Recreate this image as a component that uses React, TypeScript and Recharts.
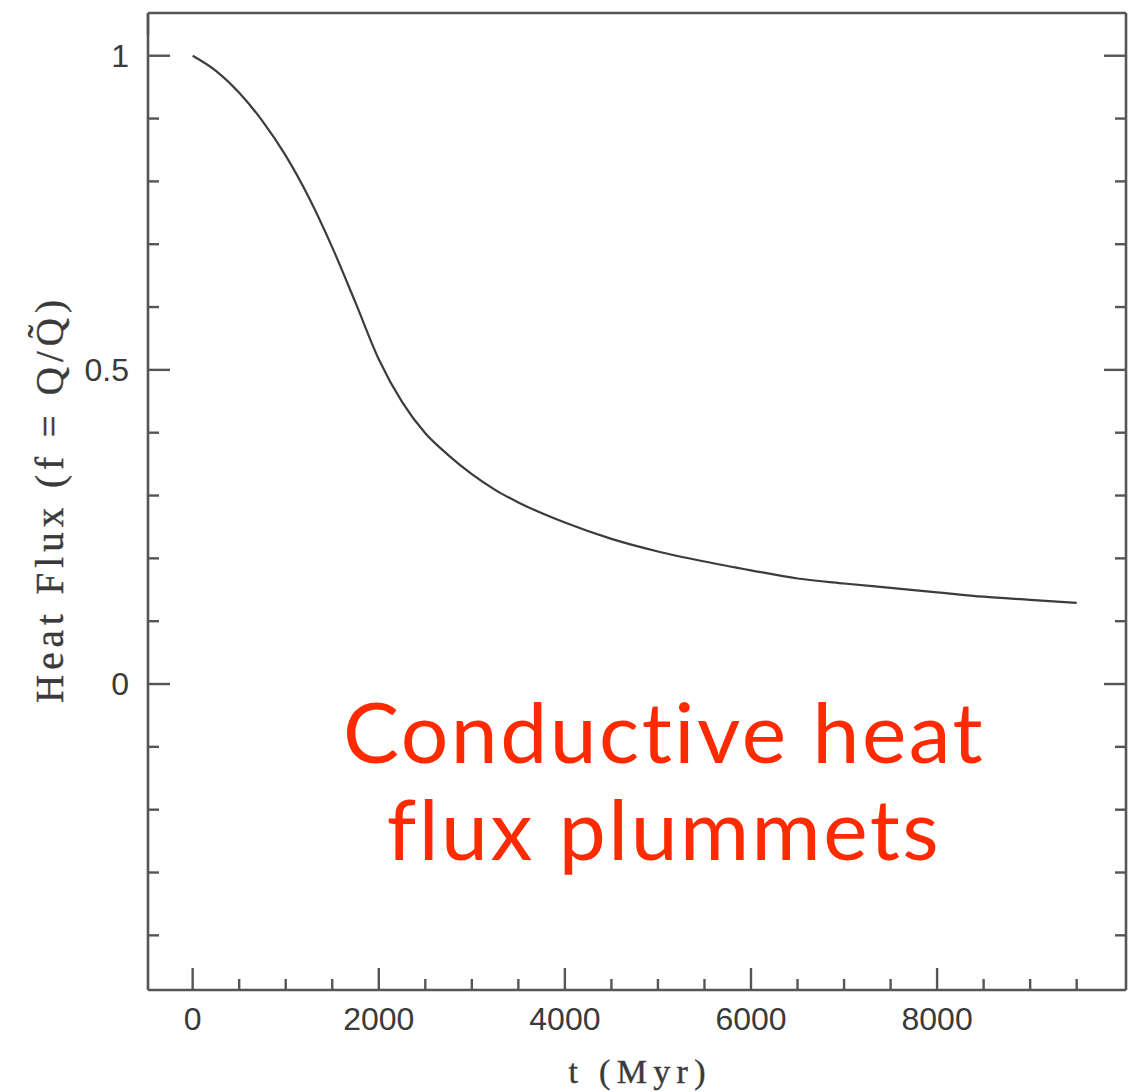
import React from 'react';
import { LineChart, Line, XAxis, YAxis, Label } from 'recharts';

// Time since onset (Myr) and normalised conductive heat flux f = Q / Q~
const TIME_MYR = [0, 250, 500, 750, 1000, 1250, 1500, 1750, 2000, 2250, 2500, 2750, 3000, 3250, 3500, 4000, 4500, 5000, 5500, 6000, 6500, 7000, 7500, 8000, 8500, 9000, 9500];
const HEAT_FLUX = [1.0, 0.976, 0.941, 0.896, 0.841, 0.774, 0.695, 0.607, 0.517, 0.449, 0.399, 0.364, 0.334, 0.309, 0.289, 0.257, 0.231, 0.211, 0.195, 0.181, 0.168, 0.16, 0.153, 0.146, 0.139, 0.134, 0.129];

const X_DOMAIN = [-480, 10030];
const Y_DOMAIN = [-0.487, 1.068];

const X_TICKS = [0, 500, 1000, 1500, 2000, 2500, 3000, 3500, 4000, 4500, 5000, 5500, 6000, 6500, 7000, 7500, 8000, 8500, 9000, 9500];
const X_MAJOR = [0, 2000, 4000, 6000, 8000];
const Y_TICKS = [-0.4, -0.3, -0.2, -0.1, 0, 0.1, 0.2, 0.3, 0.4, 0.5, 0.6, 0.7, 0.8, 0.9, 1];
const Y_MAJOR = [0, 0.5, 1];
const Y_TICK_LABELS: Record<string, string> = { '0': '0', '0.5': '0.5', '1': '1' };

const X_TITLE = 't (Myr)';
const Y_TITLE = 'Heat Flux (f = Q/Q̃)';
const ANNOTATION_LINES = ['Conductive heat', 'flux plummets'];

const data = TIME_MYR.map((t, i) => ({ t, flux: HEAT_FLUX[i] }));

const AXIS_COLOR = '#555555';
const CURVE_COLOR = '#3c3c3c';
const TEXT_COLOR = '#3a3a3a';
const TITLE_FONT = "'Liberation Serif', 'Times New Roman', serif";
const TICK_FONT = "'Liberation Sans', Arial, sans-serif";
const MAJOR_LEN = 22;
const MINOR_LEN = 11;
const TICK_WIDTH = 2.4;

const isMajor = (v: number, majors: number[]) => majors.some((m) => Math.abs(m - v) < 1e-9);

const BottomTick = (props: any) => {
  const { x, y, payload } = props;
  const major = isMajor(payload.value, X_MAJOR);
  return (
    <g>
      <line x1={x} x2={x} y1={y} y2={y - (major ? MAJOR_LEN : MINOR_LEN)} stroke={AXIS_COLOR} strokeWidth={TICK_WIDTH} />
      {major && (
        <text x={x} y={y + 40} textAnchor="middle" fontFamily={TICK_FONT} fontSize={32} fill={TEXT_COLOR}>
          {payload.value}
        </text>
      )}
    </g>
  );
};

const TopTick = (props: any) => {
  const { x, y, payload } = props;
  const major = isMajor(payload.value, X_MAJOR);
  return <line x1={x} x2={x} y1={y} y2={y + (major ? MAJOR_LEN : MINOR_LEN)} stroke={AXIS_COLOR} strokeWidth={TICK_WIDTH} />;
};

const LeftTick = (props: any) => {
  const { x, y, payload } = props;
  const major = isMajor(payload.value, Y_MAJOR);
  const key = String(Math.round(payload.value * 10) / 10);
  return (
    <g>
      <line x1={x} x2={x + (major ? MAJOR_LEN : MINOR_LEN)} y1={y} y2={y} stroke={AXIS_COLOR} strokeWidth={TICK_WIDTH} />
      {major && (
        <text x={x - 19} y={y + 11} textAnchor="end" fontFamily={TICK_FONT} fontSize={32} fill={TEXT_COLOR}>
          {Y_TICK_LABELS[key]}
        </text>
      )}
    </g>
  );
};

const RightTick = (props: any) => {
  const { x, y, payload } = props;
  const major = isMajor(payload.value, Y_MAJOR);
  return <line x1={x} x2={x - (major ? MAJOR_LEN : MINOR_LEN)} y1={y} y2={y} stroke={AXIS_COLOR} strokeWidth={TICK_WIDTH} />;
};

// Typewriter-style titles: serif glyphs spread to a wide, even length
const YTitle = (props: any) => {
  const vb = props.viewBox || {};
  const cx = (vb.x ?? 0) + 49;
  const cy = (vb.y ?? 0) + (vb.height ?? 0) / 2;
  return (
    <text
      x={cx}
      y={cy}
      transform={`rotate(-90, ${cx}, ${cy})`}
      textAnchor="middle"
      dominantBaseline="central"
      fontFamily={TITLE_FONT}
      fontSize={39}
      textLength={403}
      lengthAdjust="spacing"
      fill={TEXT_COLOR}
      stroke={TEXT_COLOR}
      strokeWidth={0.4}
    >
      {Y_TITLE}
    </text>
  );
};

const XTitle = (props: any) => {
  const vb = props.viewBox || {};
  const cx = (vb.x ?? 0) + (vb.width ?? 0) / 2;
  const y = (vb.y ?? 0) + 93;
  return (
    <text
      x={cx}
      y={y}
      textAnchor="middle"
      fontFamily={TITLE_FONT}
      fontSize={34}
      textLength={137}
      lengthAdjust="spacing"
      fill={TEXT_COLOR}
      stroke={TEXT_COLOR}
      strokeWidth={0.4}
    >
      {X_TITLE}
    </text>
  );
};

export default function App() {
  return (
    <div style={{ position: 'absolute', left: 0, top: 0, width: 1132, height: 1092, background: '#ffffff' }}>
      <LineChart width={1132} height={1092} data={data} margin={{ top: 12, right: 5, bottom: 0, left: 0 }}>
        <XAxis
          xAxisId="bottom"
          dataKey="t"
          type="number"
          orientation="bottom"
          domain={X_DOMAIN}
          allowDataOverflow
          ticks={X_TICKS}
          interval={0}
          height={102}
          tickSize={0}
          tickMargin={0}
          tick={<BottomTick />}
          axisLine={{ stroke: AXIS_COLOR, strokeWidth: 2.6 }}
          tickLine={false}
        >
          <Label content={<XTitle />} />
        </XAxis>
        <XAxis
          xAxisId="top"
          type="number"
          orientation="top"
          domain={X_DOMAIN}
          allowDataOverflow
          ticks={X_TICKS}
          interval={0}
          height={1}
          tickSize={0}
          tickMargin={0}
          tick={<TopTick />}
          axisLine={{ stroke: AXIS_COLOR, strokeWidth: 2.6 }}
          tickLine={false}
        />
        <YAxis
          yAxisId="left"
          type="number"
          orientation="left"
          domain={Y_DOMAIN}
          allowDataOverflow
          ticks={Y_TICKS}
          interval={0}
          width={148}
          tickSize={0}
          tickMargin={0}
          tick={<LeftTick />}
          axisLine={{ stroke: AXIS_COLOR, strokeWidth: 2.6 }}
          tickLine={false}
        >
          <Label content={<YTitle />} />
        </YAxis>
        <YAxis
          yAxisId="right"
          type="number"
          orientation="right"
          domain={Y_DOMAIN}
          allowDataOverflow
          ticks={Y_TICKS}
          interval={0}
          width={1}
          tickSize={0}
          tickMargin={0}
          tick={<RightTick />}
          axisLine={{ stroke: AXIS_COLOR, strokeWidth: 2.6 }}
          tickLine={false}
        />
        <Line
          xAxisId="bottom"
          yAxisId="left"
          dataKey="flux"
          type="monotone"
          stroke={CURVE_COLOR}
          strokeWidth={2.2}
          dot={false}
          isAnimationActive={false}
        />
      </LineChart>
      <div
        style={{
          position: 'absolute',
          left: 664 - 400,
          top: 682,
          width: 800,
          textAlign: 'center',
          fontFamily: 'Lato, "Open Sans", sans-serif',
          fontSize: 84,
          lineHeight: '97px',
          letterSpacing: 2.5,
          fontVariantLigatures: 'none',
          color: '#ff2a00',
        }}
      >
        {ANNOTATION_LINES.map((line) => (
          <div key={line}>{line}</div>
        ))}
      </div>
    </div>
  );
}
